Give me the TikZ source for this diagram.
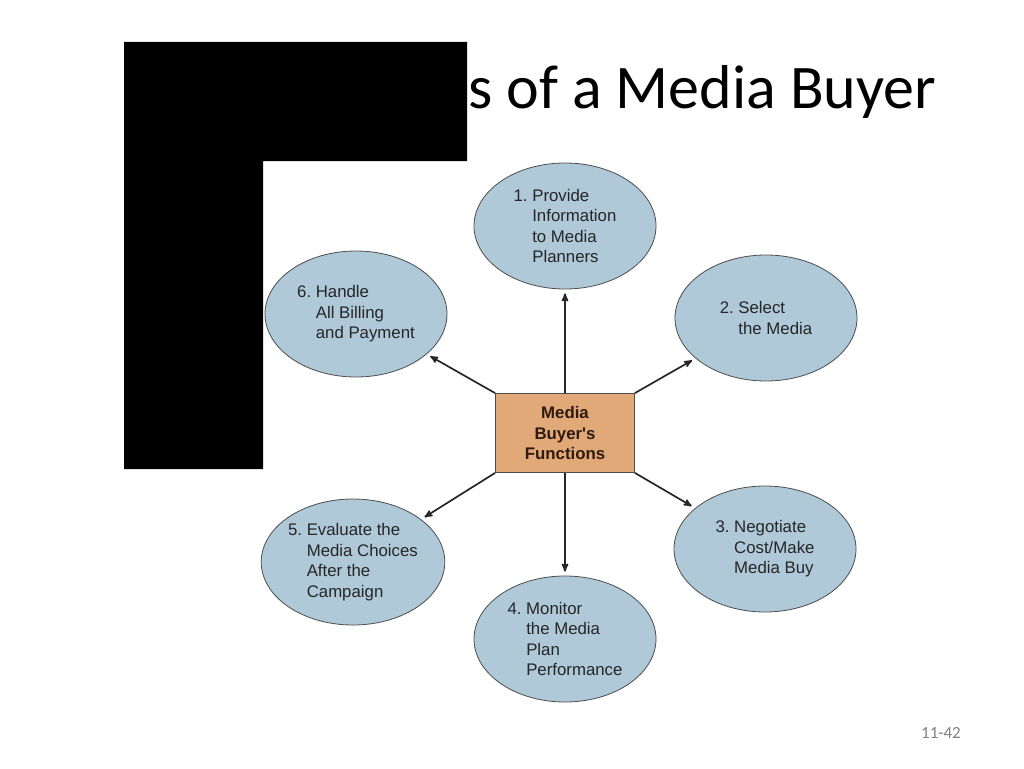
\documentclass[tikz,border=0pt]{standalone}
\usepackage{fontspec}
\setmainfont{Liberation Sans}[Ligatures=TeXOff]
\newfontfamily\titulofonte{Carlito}
\usepackage{xcolor}
\usepackage{tikz}
\usetikzlibrary{shapes.geometric, arrows}
\definecolor{azul}{HTML}{AFC9D8}
\definecolor{laranja}{HTML}{E1A977}
\definecolor{marrom}{HTML}{2E1A0E}

\begin{document}
\begin{tikzpicture}[x=1pt, y=-1pt,
    every node/.style={inner sep=0pt},
    seta/.style={-stealth', line width=1.7pt, draw=black!85, shorten >=4pt}
  ]
  \tikzset{
    elipse/.style={ellipse, draw=black!70, line width=0.8pt, fill=azul,
      minimum width=182pt, minimum height=126pt, align=left, text=black!85,
      font=\frenchspacing\fontsize{16.8}{20.5}\selectfont},
    caixa/.style={rectangle, draw=black!70, line width=0.8pt, fill=laranja,
      minimum width=139pt, minimum height=79pt, align=center, text=marrom,
      font=\bfseries\fontsize{16.8}{20.5}\selectfont}
  }
  \useasboundingbox (0,0) rectangle (1024,768);

  % titulo
  \node[anchor=base west, font=\titulofonte\fontsize{62}{70}\selectfont] (titulo) at (468,108) {s of a Media Buyer};
  \fill[black] (124,42) -- (467,42) -- (467,161) -- (263,161) -- (263,469) -- (124,469) -- cycle;

  \node[caixa] (centro) at (565,433) {Media\\Buyer's\\Functions};

  \node[elipse] (f1) at (565,226) {1. Provide\\\phantom{1.\ }Information\\\phantom{1.\ }to Media\\\phantom{1.\ }Planners};
  \node[elipse] (f2) at (766,318) {2. Select\\\phantom{2.\ }the Media};
  \node[elipse] (f3) at (765,549) {3. Negotiate\\\phantom{3.\ }Cost/Make\\\phantom{3.\ }Media Buy};
  \node[elipse] (f4) at (565,639) {4. Monitor\\\phantom{4.\ }the Media\\\phantom{4.\ }Plan\\\phantom{4.\ }Performance};
  \node[elipse] (f5) at (353,562) {5. Evaluate the\\\phantom{5.\ }Media Choices\\\phantom{5.\ }After the\\\phantom{5.\ }Campaign};
  \node[elipse] (f6) at (356,314) {6. Handle\\\phantom{6.\ }All Billing\\\phantom{6.\ }and Payment};

  \draw[seta] (centro.north) -- (f1);
  \draw[seta] (centro.north east) -- (f2);
  \draw[seta] (centro.south east) -- (f3);
  \draw[seta] (centro.south) -- (f4);
  \draw[seta] (centro.south west) -- (f5);
  \draw[seta] (centro.north west) -- (f6);

  \node[text=black!50, font=\titulofonte\fontsize{17}{20}\selectfont] (pagina) at (941,733) {11-42};
\end{tikzpicture}
\end{document}
